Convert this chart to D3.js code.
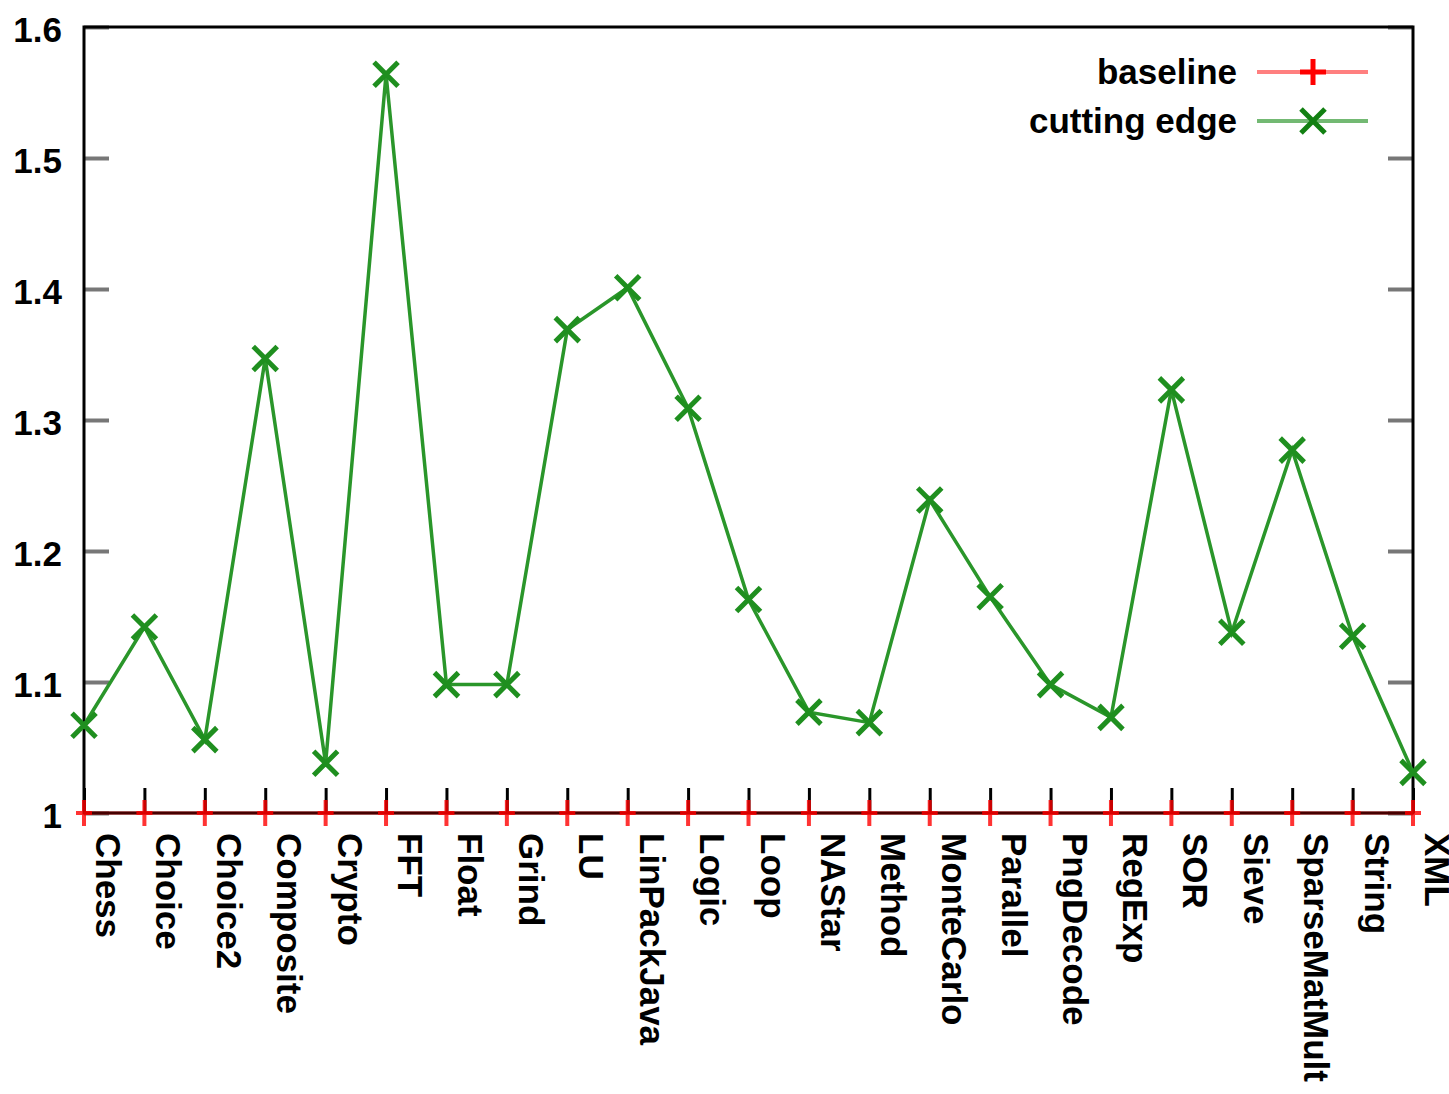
<!DOCTYPE html>
<html>
<head>
<meta charset="utf-8">
<script src="https://cdn.jsdelivr.net/npm/d3@7"></script>
<style>
  body { margin: 0; background: #fff; }
  text { font-family: "Liberation Sans Narrow", "Liberation Sans", Arial, sans-serif; font-weight: bold; fill: #000; }
</style>
</head>
<body>
<div id="chart"></div>
<script>
// benchmark names and speed-up ratios
var benchmarks = ["Chess", "Choice", "Choice2", "Composite", "Crypto", "FFT", "Float", "Grind", "LU",
  "LinPackJava", "Logic", "Loop", "NAStar", "Method", "MonteCarlo", "Parallel", "PngDecode", "RegExp",
  "SOR", "Sieve", "SparseMatMult", "String", "XML"];
var baseline = [1, 1, 1, 1, 1, 1, 1, 1, 1, 1, 1, 1, 1, 1, 1, 1, 1, 1, 1, 1, 1, 1, 1];
var cuttingEdge = [1.067, 1.142, 1.056, 1.347, 1.038, 1.564, 1.098, 1.098, 1.369, 1.401, 1.309, 1.163,
  1.077, 1.069, 1.239, 1.165, 1.098, 1.073, 1.323, 1.138, 1.277, 1.135, 1.031];
var yTicks = [1, 1.1, 1.2, 1.3, 1.4, 1.5, 1.6];

var margin = {top: 27, right: 36, bottom: 281, left: 84},
    width = 1449 - margin.left - margin.right,
    height = 1094 - margin.top - margin.bottom;

var svg = d3.select("#chart").append("svg")
    .attr("width", 1449)
    .attr("height", 1094)
    .append("g")
    .attr("transform", "translate(" + margin.left + "," + margin.top + ")");

var x = d3.scalePoint().domain(benchmarks).range([0, width]);
var y = d3.scaleLinear().domain([1, 1.6]).range([height, 0]);

// y ticks, left and right, inward
svg.append("g")
    .call(d3.axisLeft(y).tickValues(yTicks).tickSize(-25).tickPadding(22)
      .tickFormat(function(d) { return d === 1 ? "1" : d3.format(".1f")(d); }))
    .call(function(g) {
      g.select(".domain").remove();
      g.selectAll("line").attr("stroke", "#777").attr("stroke-width", 4);
      g.selectAll("text").style("font-size", "35px").attr("dy", "0.4em");
    });
svg.append("g")
    .attr("transform", "translate(" + width + ",0)")
    .call(d3.axisRight(y).tickValues(yTicks).tickSize(-25).tickFormat(""))
    .call(function(g) {
      g.select(".domain").remove();
      g.selectAll("line").attr("stroke", "#777").attr("stroke-width", 4);
    });

// x ticks, inward from bottom
svg.append("g")
    .attr("transform", "translate(0," + height + ")")
    .call(d3.axisBottom(x).tickSize(-25).tickFormat(""))
    .call(function(g) {
      g.select(".domain").remove();
      g.selectAll("line").attr("stroke", "#000").attr("stroke-width", 3);
    });

// x labels rotated
svg.append("g").selectAll("text")
    .data(benchmarks)
    .enter().append("text")
    .attr("transform", function(d) { return "translate(" + (x(d) + 12) + "," + (height + 20) + ") rotate(90)"; })
    .style("font-size", "35px")
    .text(function(d) { return d; });

// frame
svg.append("rect")
    .attr("width", width).attr("height", height)
    .attr("fill", "none").attr("stroke", "#000").attr("stroke-width", 3);

var lineGen = d3.line()
    .x(function(d, i) { return x(benchmarks[i]); })
    .y(function(d) { return y(d); });

// baseline series
svg.append("path").datum(baseline)
    .attr("d", lineGen).attr("fill", "none")
    .attr("stroke", "rgba(200,0,0,0.35)").attr("stroke-width", 4);
svg.selectAll(".plus").data(baseline).enter().append("path")
    .attr("class", "plus")
    .attr("transform", function(d, i) { return "translate(" + x(benchmarks[i]) + "," + y(d) + ")"; })
    .attr("d", "M-8,0H8M0,-13V13")
    .attr("stroke", "rgba(255,0,0,0.8)").attr("stroke-width", 4);

// cutting edge series
svg.append("path").datum(cuttingEdge)
    .attr("d", lineGen).attr("fill", "none")
    .attr("stroke", "#2a962a").attr("stroke-width", 3.5);
svg.selectAll(".cross").data(cuttingEdge).enter().append("path")
    .attr("class", "cross")
    .attr("transform", function(d, i) { return "translate(" + x(benchmarks[i]) + "," + y(d) + ")"; })
    .attr("d", "M-12,-12L12,12M-12,12L12,-12")
    .attr("stroke", "#1f8f1f").attr("stroke-width", 5);

// legend
var legend = [
  {name: "baseline", line: "rgba(255,0,0,0.5)", mark: "#ff0000", d: "M-13,0H13M0,-13V13"},
  {name: "cutting edge", line: "rgba(0,128,0,0.55)", mark: "#128012", d: "M-12,-12L12,12M-12,12L12,-12"}
];
var lg = svg.append("g").selectAll("g").data(legend).enter().append("g")
    .attr("transform", function(d, i) { return "translate(0," + (45 + i * 49) + ")"; });
lg.append("text")
    .attr("x", 1153).attr("dy", "0.35em")
    .attr("text-anchor", "end")
    .style("font-size", "35px")
    .text(function(d) { return d.name; });
lg.append("line")
    .attr("x1", 1173).attr("x2", 1284)
    .attr("stroke", function(d) { return d.line; }).attr("stroke-width", 4);
lg.append("path")
    .attr("transform", "translate(1229,0)")
    .attr("d", function(d) { return d.d; })
    .attr("stroke", function(d) { return d.mark; }).attr("stroke-width", 5);
</script>
</body>
</html>
